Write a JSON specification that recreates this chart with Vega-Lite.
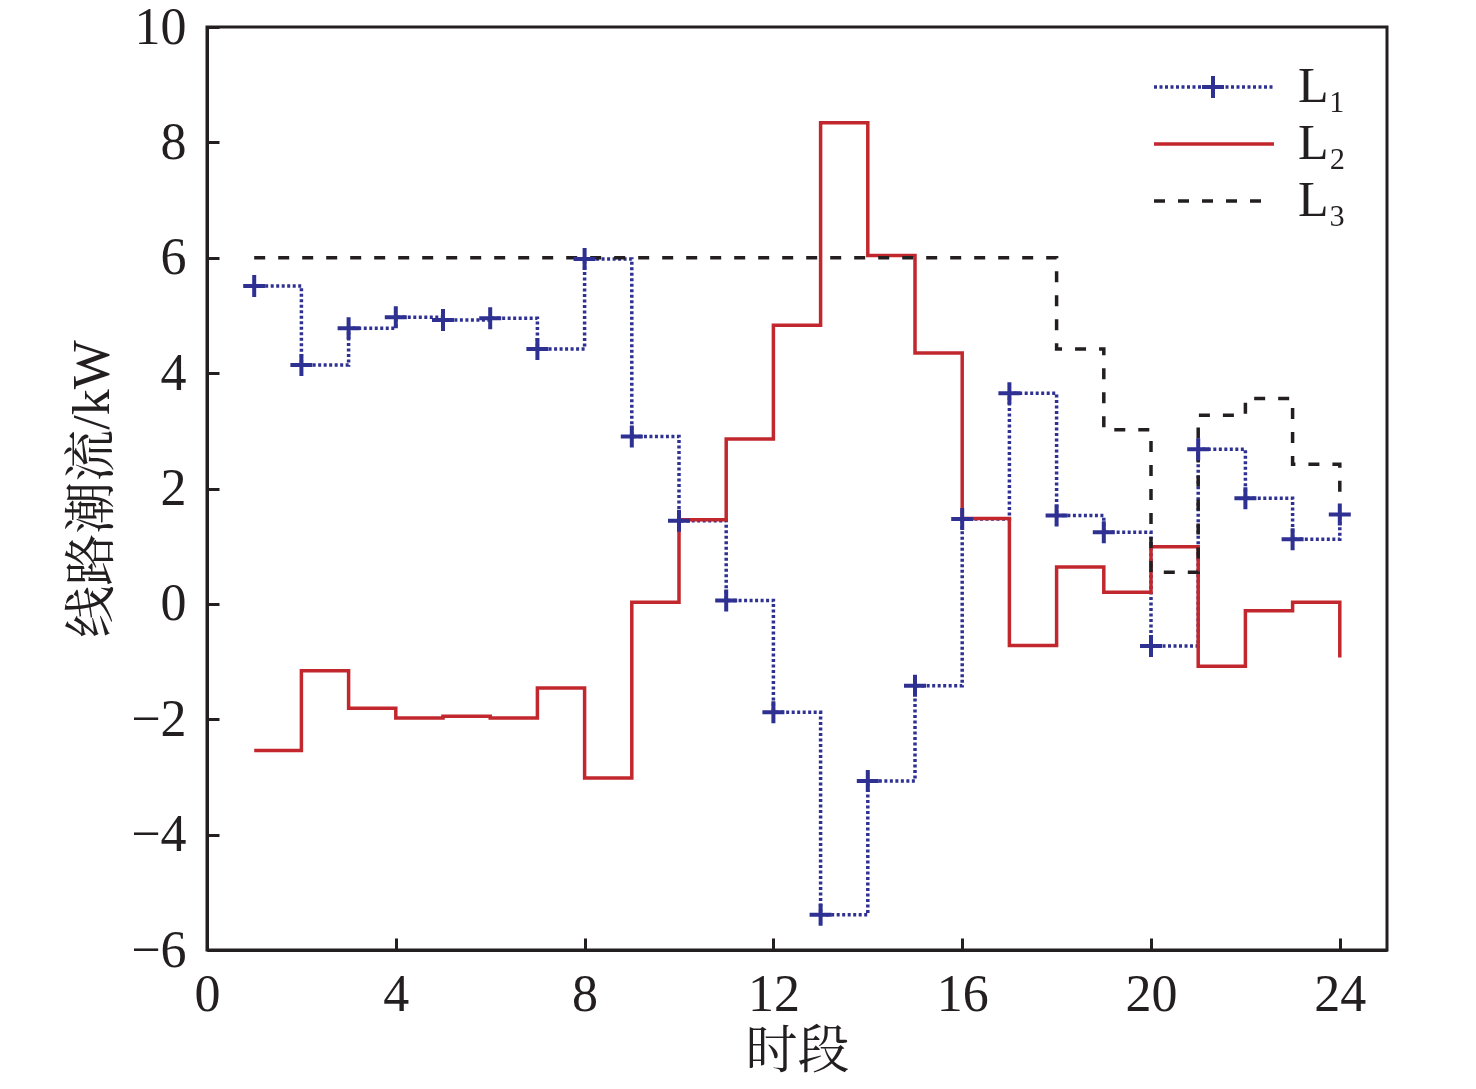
{
  "$schema": "https://vega.github.io/schema/vega-lite/v6.json",
  "width": 1180,
  "height": 923,
  "autosize": {"type": "none"},
  "padding": {"left": 207, "top": 27, "right": 89, "bottom": 139},
  "background": "white",
  "data": {
    "values": [
      {"series": "L₁", "t": 1, "v": 5.51}, {"series": "L₁", "t": 2, "v": 4.14}, {"series": "L₁", "t": 3, "v": 4.78},
      {"series": "L₁", "t": 4, "v": 4.97}, {"series": "L₁", "t": 5, "v": 4.92}, {"series": "L₁", "t": 6, "v": 4.95},
      {"series": "L₁", "t": 7, "v": 4.42}, {"series": "L₁", "t": 8, "v": 5.98}, {"series": "L₁", "t": 9, "v": 2.9},
      {"series": "L₁", "t": 10, "v": 1.44}, {"series": "L₁", "t": 11, "v": 0.06}, {"series": "L₁", "t": 12, "v": -1.88},
      {"series": "L₁", "t": 13, "v": -5.39}, {"series": "L₁", "t": 14, "v": -3.07}, {"series": "L₁", "t": 15, "v": -1.42},
      {"series": "L₁", "t": 16, "v": 1.47}, {"series": "L₁", "t": 17, "v": 3.65}, {"series": "L₁", "t": 18, "v": 1.53},
      {"series": "L₁", "t": 19, "v": 1.24}, {"series": "L₁", "t": 20, "v": -0.73}, {"series": "L₁", "t": 21, "v": 2.68},
      {"series": "L₁", "t": 22, "v": 1.83}, {"series": "L₁", "t": 23, "v": 1.12}, {"series": "L₁", "t": 24, "v": 1.55},
      {"series": "L₂", "t": 1, "v": -2.54}, {"series": "L₂", "t": 2, "v": -1.16}, {"series": "L₂", "t": 3, "v": -1.81},
      {"series": "L₂", "t": 4, "v": -1.98}, {"series": "L₂", "t": 5, "v": -1.95}, {"series": "L₂", "t": 6, "v": -1.98},
      {"series": "L₂", "t": 7, "v": -1.46}, {"series": "L₂", "t": 8, "v": -3.02}, {"series": "L₂", "t": 9, "v": 0.03},
      {"series": "L₂", "t": 10, "v": 1.46}, {"series": "L₂", "t": 11, "v": 2.86}, {"series": "L₂", "t": 12, "v": 4.83},
      {"series": "L₂", "t": 13, "v": 8.34}, {"series": "L₂", "t": 14, "v": 6.04}, {"series": "L₂", "t": 15, "v": 4.35},
      {"series": "L₂", "t": 16, "v": 1.48}, {"series": "L₂", "t": 17, "v": -0.72}, {"series": "L₂", "t": 18, "v": 0.64},
      {"series": "L₂", "t": 19, "v": 0.2}, {"series": "L₂", "t": 20, "v": 0.99}, {"series": "L₂", "t": 21, "v": -1.08},
      {"series": "L₂", "t": 22, "v": -0.12}, {"series": "L₂", "t": 23, "v": 0.03}, {"series": "L₂", "t": 24, "v": -0.93},
      {"series": "L₃", "t": 1, "v": 6}, {"series": "L₃", "t": 2, "v": 6}, {"series": "L₃", "t": 3, "v": 6},
      {"series": "L₃", "t": 4, "v": 6}, {"series": "L₃", "t": 5, "v": 6}, {"series": "L₃", "t": 6, "v": 6},
      {"series": "L₃", "t": 7, "v": 6}, {"series": "L₃", "t": 8, "v": 6}, {"series": "L₃", "t": 9, "v": 6},
      {"series": "L₃", "t": 10, "v": 6}, {"series": "L₃", "t": 11, "v": 6}, {"series": "L₃", "t": 12, "v": 6},
      {"series": "L₃", "t": 13, "v": 6}, {"series": "L₃", "t": 14, "v": 6}, {"series": "L₃", "t": 15, "v": 6},
      {"series": "L₃", "t": 16, "v": 6}, {"series": "L₃", "t": 17, "v": 6}, {"series": "L₃", "t": 18, "v": 4.42},
      {"series": "L₃", "t": 19, "v": 3.02}, {"series": "L₃", "t": 20, "v": 0.55}, {"series": "L₃", "t": 21, "v": 3.27},
      {"series": "L₃", "t": 22, "v": 3.56}, {"series": "L₃", "t": 23, "v": 2.42}, {"series": "L₃", "t": 24, "v": 1.93}
    ]
  },
  "encoding": {
    "x": {
      "field": "t",
      "type": "quantitative",
      "scale": {"domain": [0, 25], "nice": false},
      "axis": {"values": [0, 4, 8, 12, 16, 20, 24], "title": "时段", "labelPadding": 31, "titlePadding": 6}
    },
    "y": {
      "field": "v",
      "type": "quantitative",
      "scale": {"domain": [-6, 10], "nice": false},
      "axis": {"values": [-6, -4, -2, 0, 2, 4, 6, 8, 10], "title": "线路潮流/kW", "labelPadding": 33, "titlePadding": 11, "labelExpr": "replace(datum.label, '-', '−')"}
    }
  },
  "layer": [
    {
      "mark": {"type": "line", "interpolate": "step-after", "strokeWidth": 3.5},
      "encoding": {
        "color": {
          "field": "series",
          "type": "nominal",
          "scale": {"domain": ["L₁", "L₂", "L₃"], "range": ["#2e3192", "#c1272d", "#231f20"]},
          "legend": {"orient": "none", "legendX": 982, "legendY": 35, "title": null}
        },
        "strokeDash": {
          "field": "series",
          "type": "nominal",
          "scale": {"domain": ["L₁", "L₂", "L₃"], "range": [[3, 2.5], [1, 0], [11, 13]]},
          "legend": {"orient": "none", "legendX": 982, "legendY": 35, "title": null}
        }
      }
    },
    {
      "transform": [{"filter": "datum.series === 'L₁'"}],
      "mark": {"type": "point", "filled": false, "strokeWidth": 4, "size": 484, "color": "#2e3192", "opacity": 1},
      "encoding": {
        "shape": {
          "field": "series",
          "type": "nominal",
          "scale": {"domain": ["L₁"], "range": ["M-1,0H1M0,-1V1"]},
          "legend": {
            "orient": "none",
            "legendX": 981,
            "legendY": 35,
            "title": null,
            "symbolSize": 484,
            "symbolStrokeColor": "#2e3192",
            "symbolStrokeWidth": 4,
            "symbolFillColor": "transparent",
            "labelColor": "transparent"
          }
        }
      }
    }
  ],
  "config": {
    "font": "Liberation Serif",
    "view": {"stroke": "#231f20", "strokeWidth": 3},
    "axis": {
      "grid": false,
      "labelFlush": false,
      "labelOverlap": false,
      "domainColor": "#231f20",
      "domainWidth": 3,
      "tickColor": "#231f20",
      "tickWidth": 3,
      "tickSize": -12,
      "labelFont": "Liberation Serif",
      "labelFontSize": 52,
      "labelColor": "#231f20",
      "titleFont": "Liberation Serif, Noto Serif CJK SC, Noto Sans CJK SC",
      "titleFontSize": 52,
      "titleFontWeight": "normal",
      "titleColor": "#231f20"
    },
    "legend": {
      "padding": 0,
      "symbolType": "M-5,0H5",
      "symbolSize": 576,
      "symbolStrokeWidth": 3.5,
      "labelFont": "Liberation Serif",
      "labelFontSize": 50,
      "labelColor": "#231f20",
      "labelOffset": 59,
      "rowPadding": 7,
      "labelLimit": 0
    }
  }
}
